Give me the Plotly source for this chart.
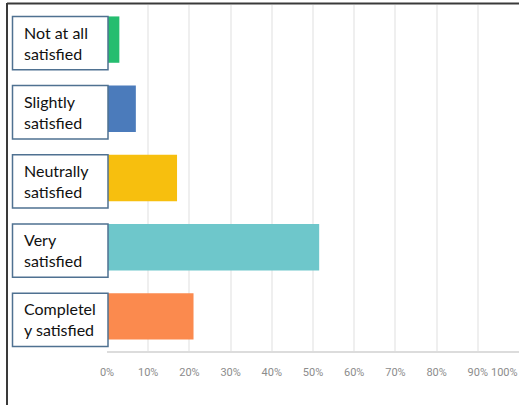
import plotly.graph_objects as go

# Survey responses: share of respondents per satisfaction level (%)
categories = [
    "Not at all<br>satisfied",
    "Slightly<br>satisfied",
    "Neutrally<br>satisfied",
    "Very<br>satisfied",
    "Completel<br>y satisfied",
]
percentages = [3, 7, 17, 51.5, 21]
bar_colors = ["#25bd6f", "#4b7bbb", "#f7bf0e", "#6ec7cb", "#fb8a4e"]
tick_values = [0, 10, 20, 30, 40, 50, 60, 70, 80, 90]
tick_labels = ["0%", "10%", "20%", "30%", "40%", "50%", "60%", "70%", "80%", "90%"]

W, H = 519, 405
ML, MR, MT, MB = 107, 0, 5, 54
PW, PH = W - ML - MR, H - MT - MB


def px_x(p):
    return (p - ML) / PW


def px_y(p):
    return (H - MB - p) / PH


fig = go.Figure(
    go.Bar(
        x=percentages,
        y=categories,
        orientation="h",
        marker=dict(color=bar_colors, line=dict(width=0)),
        width=0.67,
        hoverinfo="skip",
    )
)

shapes = []
annotations = []
for i, label in enumerate(categories):
    # white label box with a steel-blue outline next to each bar
    shapes.append(dict(
        type="rect", xref="paper", yref="y",
        x0=px_x(12.5), x1=px_x(108),
        y0=i - 0.335, y1=i + 0.435,
        line=dict(color="#4f7191", width=1.5),
        fillcolor="white", layer="above",
    ))
    annotations.append(dict(
        xref="paper", yref="y", x=px_x(21.5), y=i, yshift=-3,
        text=label, showarrow=False, xanchor="left", yanchor="middle",
        align="left", font=dict(family="Lato", size=16, color="#111111"),
    ))

# last tick label sits flush against the right edge
annotations.append(dict(
    xref="x", yref="paper", x=100, y=px_y(373), xshift=1,
    text="100%", showarrow=False, xanchor="right", yanchor="middle",
    font=dict(family="Roboto", size=11, color="#8c8c8c"),
))

# outer frame: top and left edges
shapes.append(dict(type="line", xref="paper", yref="paper",
                   x0=px_x(7), x1=px_x(W + 2), y0=px_y(3.5), y1=px_y(3.5),
                   line=dict(color="#3a3a3a", width=2)))
shapes.append(dict(type="line", xref="paper", yref="paper",
                   x0=px_x(7), x1=px_x(7), y0=px_y(3), y1=px_y(H + 2),
                   line=dict(color="#3a3a3a", width=2)))

fig.update_layout(
    width=W, height=H,
    margin=dict(l=ML, r=MR, t=MT, b=MB),
    paper_bgcolor="white", plot_bgcolor="white",
    showlegend=False,
    bargap=0.33,
    shapes=shapes,
    annotations=annotations,
    xaxis=dict(
        range=[0, 100],
        tickvals=tick_values, ticktext=tick_labels,
        showgrid=True, gridcolor="#efefef", gridwidth=1.5,
        zeroline=False,
        showline=True, linecolor="#dcdcdc", linewidth=1.5,
        ticks="", ticklabelstandoff=10,
        tickfont=dict(family="Roboto", size=11, color="#8c8c8c"),
        fixedrange=True,
    ),
    yaxis=dict(
        categoryorder="array", categoryarray=categories,
        autorange="reversed",
        showticklabels=False, showgrid=False, zeroline=False,
        showline=False, ticks="",
        fixedrange=True,
    ),
)

fig.write_html("out.html")
